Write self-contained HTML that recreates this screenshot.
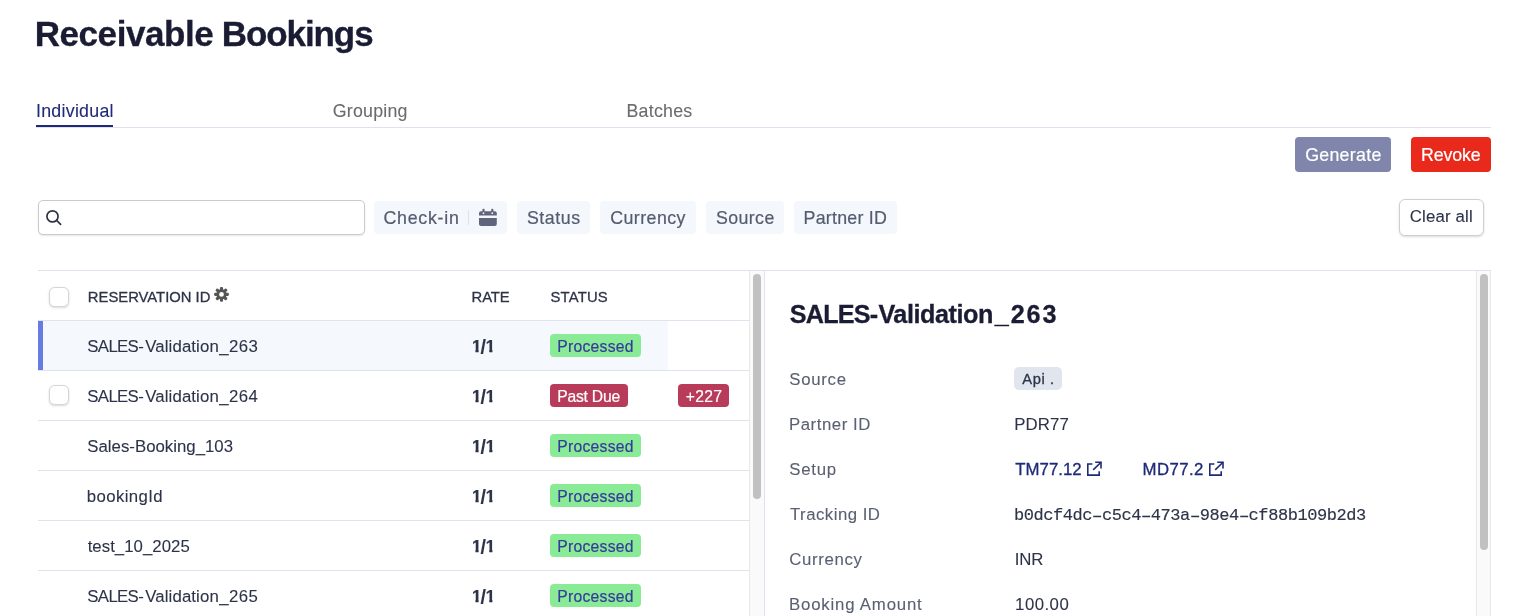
<!DOCTYPE html>
<html lang="en">
<head>
<meta charset="utf-8">
<title>Receivable Bookings</title>
<style>
html,body{margin:0;padding:0;background:#fff;}
body{width:1522px;height:616px;position:relative;overflow:hidden;font-family:"Liberation Sans",sans-serif;}
.b{position:absolute;box-sizing:border-box;}
.t{position:absolute;white-space:nowrap;line-height:20px;height:20px;}
.s{font-family:"Liberation Sans",sans-serif;-webkit-text-stroke:0.1px;}
.m{font-family:"Liberation Mono",monospace;-webkit-text-stroke:0.15px #2d3348;}
.hl{position:absolute;height:1px;background:#dfe3ee;}
.chip{position:absolute;top:201px;height:33px;background:#f4f7fb;border-radius:4px;}
.btn{position:absolute;top:137px;height:35px;border-radius:4px;}
.cb{position:absolute;left:49px;width:20px;height:19.5px;box-sizing:border-box;border:1px solid #d3d4d9;border-radius:5.5px;background:#fff;box-shadow:0 1px 3px rgba(0,0,0,.10),0 1px 2px rgba(0,0,0,.06);}
.bg{position:absolute;height:23px;border-radius:4px;}
.green{background:#8aeb96;left:550px;width:91px;}
.red{background:#b83c5a;}
.track{position:absolute;top:271px;width:15px;height:345px;background:#fafafa;box-sizing:border-box;border-left:1px solid #e8e8e8;border-right:1px solid #e8e8e8;}
.thumb{position:absolute;top:274px;width:7.6px;border-radius:4px;background:#c1c1c1;}
.hy{display:inline-block;transform:translateY(0.6px) scaleX(1.65);}
svg{position:absolute;overflow:visible;}
</style>
</head>
<body>
<div id="root" style="position:absolute;left:0;top:0;width:1522px;height:616px;will-change:transform;">
<!-- tabs -->
<div class="hl" style="left:36px;top:127px;width:1455px;background:#dde2ee;"></div>
<div class="b" style="left:36px;top:125px;width:77px;height:2px;background:#1e2a78;"></div>

<!-- action buttons -->
<div class="btn" style="left:1295px;width:96px;background:#7f85ab;"></div>
<div class="btn" style="left:1411px;width:80px;background:#e8291c;"></div>

<!-- search -->
<div class="b" style="left:38px;top:200px;width:327px;height:35px;border:1px solid #c8cacf;border-radius:5px;background:#fff;box-shadow:0 1px 2px rgba(0,0,0,.10);"></div>
<svg style="left:44px;top:208px" width="20" height="20" viewBox="44 208 20 20"><circle cx="52.5" cy="216.4" r="5.55" fill="none" stroke="#2d3348" stroke-width="1.7"/><path d="M56.6 220.4 L60.6 224.3" stroke="#2d3348" stroke-width="1.7" stroke-linecap="round" fill="none"/></svg>

<!-- chips -->
<div class="chip" style="left:374px;width:133px;"></div>
<div class="b" style="left:468px;top:210px;width:1px;height:15px;background:#e0e3ec;"></div>
<svg style="left:478px;top:208px" width="20" height="20" viewBox="478 208 20 20"><g fill="#60657b"><path d="M479 213.2 a2 2 0 0 1 2 -2 h13.8 a2 2 0 0 1 2 2 v2.3 h-17.8z"/><rect x="482.4" y="208.8" width="2.2" height="4" rx="1"/><rect x="491.2" y="208.8" width="2.2" height="4" rx="1"/><path d="M479 218.1 h17.8 v5.9 a2 2 0 0 1 -2 2 h-13.8 a2 2 0 0 1 -2 -2z"/></g><circle cx="483.5" cy="213.2" r="0.9" fill="#f4f7fb"/><circle cx="492.3" cy="213.2" r="0.9" fill="#f4f7fb"/></svg>
<div class="chip" style="left:517px;width:73px;"></div>
<div class="chip" style="left:600.4px;width:95.8px;"></div>
<div class="chip" style="left:706.4px;width:77.8px;"></div>
<div class="chip" style="left:794px;width:103px;"></div>
<div class="b" style="left:1399px;top:199px;width:85px;height:37px;border:1px solid #cdcfd6;border-radius:6px;background:#fff;box-shadow:0 1px 3px rgba(0,0,0,.10),0 1px 2px rgba(0,0,0,.06);"></div>

<!-- table -->
<div class="hl" style="left:38px;top:270px;width:1453px;"></div>
<div class="b" style="left:38px;top:321px;width:630px;height:49px;background:#f5f8fc;"></div>
<div class="b" style="left:38px;top:321px;width:5px;height:49px;background:#667ce0;"></div>
<div class="hl" style="left:38px;top:320px;width:711px;"></div>
<div class="hl" style="left:38px;top:370px;width:711px;"></div>
<div class="hl" style="left:38px;top:420px;width:711px;"></div>
<div class="hl" style="left:38px;top:470px;width:711px;"></div>
<div class="hl" style="left:38px;top:520px;width:711px;"></div>
<div class="hl" style="left:38px;top:570px;width:711px;"></div>
<div class="cb" style="top:287px;"></div>
<div class="cb" style="top:385px;"></div>
<svg style="left:214px;top:287px" width="15" height="15" viewBox="-7.5 -7.4 15 15"><g fill="#555"><rect x="-1.55" y="-7.4" width="3.1" height="4.4" rx="1.1" transform="rotate(0)"/><rect x="-1.55" y="-7.4" width="3.1" height="4.4" rx="1.1" transform="rotate(45)"/><rect x="-1.55" y="-7.4" width="3.1" height="4.4" rx="1.1" transform="rotate(90)"/><rect x="-1.55" y="-7.4" width="3.1" height="4.4" rx="1.1" transform="rotate(135)"/><rect x="-1.55" y="-7.4" width="3.1" height="4.4" rx="1.1" transform="rotate(180)"/><rect x="-1.55" y="-7.4" width="3.1" height="4.4" rx="1.1" transform="rotate(225)"/><rect x="-1.55" y="-7.4" width="3.1" height="4.4" rx="1.1" transform="rotate(270)"/><rect x="-1.55" y="-7.4" width="3.1" height="4.4" rx="1.1" transform="rotate(315)"/></g><circle r="3.75" fill="none" stroke="#555" stroke-width="2.7"/></svg>

<!-- badges -->
<div class="bg green" style="top:334px;"></div>
<div class="bg red" style="top:384px;left:550px;width:78px;"></div>
<div class="bg red" style="top:384px;left:678px;width:51px;"></div>
<div class="bg green" style="top:434px;"></div>
<div class="bg green" style="top:484px;"></div>
<div class="bg green" style="top:534px;"></div>
<div class="bg green" style="top:584px;"></div>

<!-- scrollbars -->
<div class="track" style="left:749px;width:16px;border-right-color:#dfe3ee;"></div>
<div class="thumb" style="left:753px;height:225px;"></div>
<div class="track" style="left:1476px;"></div>
<div class="thumb" style="left:1480px;height:276px;"></div>

<!-- detail -->
<div class="b" style="left:1014px;top:367px;width:48px;height:23px;border-radius:5px;background:#e1e5ed;"></div>
<svg style="left:1085px;top:460px" width="20" height="20" viewBox="1085 460 20 20"><g fill="none" stroke="#1e2a78" stroke-width="1.6"><path d="M1092.4 464 H1087.8 V475.1 H1099.2 V471.2"/><path d="M1093.2 469.9 L1101 462.3"/><path d="M1095.2 462.3 H1101 V468.6"/></g></svg>
<svg style="left:1207px;top:460px" width="20" height="20" viewBox="1085 460 20 20"><g fill="none" stroke="#1e2a78" stroke-width="1.6"><path d="M1092.4 464 H1087.8 V475.1 H1099.2 V471.2"/><path d="M1093.2 469.9 L1101 462.3"/><path d="M1095.2 462.3 H1101 V468.6"/></g></svg>

<span class="t s" style="left:34.73px;top:24px;font-size:35px;letter-spacing:-0.437px;color:#1a1c33;font-weight:700;-webkit-text-stroke:0.3px;">Receivable</span>
<span class="t s" style="left:221.68px;top:24px;font-size:35px;letter-spacing:-1.067px;color:#1a1c33;font-weight:700;-webkit-text-stroke:0.3px;">Bookings</span>
<span class="t s" style="left:36.00px;top:101px;font-size:17.8px;letter-spacing:0.267px;color:#1e2a78;">Individual</span>
<span class="t s" style="left:332.81px;top:101px;font-size:17.8px;letter-spacing:0.204px;color:#6b6b6b;">Grouping</span>
<span class="t s" style="left:626.53px;top:101px;font-size:17.8px;letter-spacing:0.237px;color:#6b6b6b;">Batches</span>
<span class="t s" style="left:1305.14px;top:145px;font-size:17.8px;letter-spacing:0.287px;color:#ffffff;-webkit-text-stroke:0.2px;">Generate</span>
<span class="t s" style="left:1421.00px;top:145px;font-size:17.8px;letter-spacing:-0.111px;color:#ffffff;-webkit-text-stroke:0.2px;">Revoke</span>
<span class="t s" style="left:383.45px;top:208px;font-size:17.8px;letter-spacing:0.755px;color:#555b70;-webkit-text-stroke:0.2px;">Check-in</span>
<span class="t s" style="left:526.95px;top:208px;font-size:17.8px;letter-spacing:0.538px;color:#555b70;-webkit-text-stroke:0.2px;">Status</span>
<span class="t s" style="left:610.25px;top:208px;font-size:17.8px;letter-spacing:0.434px;color:#555b70;-webkit-text-stroke:0.2px;">Currency</span>
<span class="t s" style="left:715.95px;top:208px;font-size:17.8px;letter-spacing:0.404px;color:#555b70;-webkit-text-stroke:0.2px;">Source</span>
<span class="t s" style="left:803.62px;top:208px;font-size:17.8px;letter-spacing:0.238px;color:#555b70;-webkit-text-stroke:0.2px;">Partner ID</span>
<span class="t s" style="left:1409.84px;top:207px;font-size:16.8px;letter-spacing:0.158px;color:#2d3348;">Clear all</span>
<span class="t s" style="left:87.82px;top:287px;font-size:14.8px;letter-spacing:0.006px;color:#2d3348;-webkit-text-stroke:0.3px;">RESERVATION ID</span>
<span class="t s" style="left:471.62px;top:287px;font-size:14.8px;letter-spacing:-0.135px;color:#2d3348;-webkit-text-stroke:0.3px;">RATE</span>
<span class="t s" style="left:550.47px;top:287px;font-size:14.8px;letter-spacing:0.205px;color:#2d3348;-webkit-text-stroke:0.3px;">STATUS</span>
<span class="t s" style="left:87.32px;top:337px;font-size:16.8px;letter-spacing:-0.654px;color:#2d3348;">SALES-</span>
<span class="t s" style="left:145.27px;top:337px;font-size:16.8px;letter-spacing:0.113px;color:#2d3348;">Validation</span>
<span class="t s" style="left:219.30px;top:337px;font-size:16.8px;letter-spacing:0.408px;color:#2d3348;">_263</span>
<span class="t s" style="left:471.93px;top:337px;font-size:16.8px;letter-spacing:0.000px;color:#2d3348;font-weight:700;clip-path:polygon(0 0,100% 0,100% 12.7px,6.7px 12.7px,6.7px 100%,3.5px 100%,3.5px 12.7px,0 12.7px);-webkit-text-stroke:0.25px;">1</span>
<span class="t s" style="left:480.49px;top:337px;font-size:19.5px;letter-spacing:0.000px;color:#2d3348;font-weight:700;-webkit-text-stroke:0.1px;">/</span>
<span class="t s" style="left:485.74px;top:337px;font-size:16.8px;letter-spacing:0.000px;color:#2d3348;font-weight:700;clip-path:polygon(0 0,100% 0,100% 12.7px,6.7px 12.7px,6.7px 100%,3.5px 100%,3.5px 12.7px,0 12.7px);-webkit-text-stroke:0.25px;">1</span>
<span class="t s" style="left:557.36px;top:337px;font-size:15.7px;letter-spacing:0.244px;color:#373a9e;-webkit-text-stroke:0.2px;">Processed</span>
<span class="t s" style="left:87.32px;top:387px;font-size:16.8px;letter-spacing:-0.651px;color:#2d3348;">SALES-</span>
<span class="t s" style="left:145.26px;top:387px;font-size:16.8px;letter-spacing:0.114px;color:#2d3348;">Validation</span>
<span class="t s" style="left:219.28px;top:387px;font-size:16.8px;letter-spacing:0.428px;color:#2d3348;">_264</span>
<span class="t s" style="left:471.93px;top:387px;font-size:16.8px;letter-spacing:0.000px;color:#2d3348;font-weight:700;clip-path:polygon(0 0,100% 0,100% 12.7px,6.7px 12.7px,6.7px 100%,3.5px 100%,3.5px 12.7px,0 12.7px);-webkit-text-stroke:0.25px;">1</span>
<span class="t s" style="left:480.49px;top:387px;font-size:19.5px;letter-spacing:0.000px;color:#2d3348;font-weight:700;-webkit-text-stroke:0.1px;">/</span>
<span class="t s" style="left:485.74px;top:387px;font-size:16.8px;letter-spacing:0.000px;color:#2d3348;font-weight:700;clip-path:polygon(0 0,100% 0,100% 12.7px,6.7px 12.7px,6.7px 100%,3.5px 100%,3.5px 12.7px,0 12.7px);-webkit-text-stroke:0.25px;">1</span>
<span class="t s" style="left:557.16px;top:387px;font-size:15.7px;letter-spacing:-0.209px;color:#ffffff;-webkit-text-stroke:0.2px;">Past Due</span>
<span class="t s" style="left:685.87px;top:387px;font-size:15.7px;letter-spacing:0.263px;color:#ffffff;-webkit-text-stroke:0.2px;">+227</span>
<span class="t s" style="left:87.32px;top:437px;font-size:16.8px;letter-spacing:0.011px;color:#2d3348;">Sales-Booking_103</span>
<span class="t s" style="left:471.93px;top:437px;font-size:16.8px;letter-spacing:0.000px;color:#2d3348;font-weight:700;clip-path:polygon(0 0,100% 0,100% 12.7px,6.7px 12.7px,6.7px 100%,3.5px 100%,3.5px 12.7px,0 12.7px);-webkit-text-stroke:0.25px;">1</span>
<span class="t s" style="left:480.49px;top:437px;font-size:19.5px;letter-spacing:0.000px;color:#2d3348;font-weight:700;-webkit-text-stroke:0.1px;">/</span>
<span class="t s" style="left:485.74px;top:437px;font-size:16.8px;letter-spacing:0.000px;color:#2d3348;font-weight:700;clip-path:polygon(0 0,100% 0,100% 12.7px,6.7px 12.7px,6.7px 100%,3.5px 100%,3.5px 12.7px,0 12.7px);-webkit-text-stroke:0.25px;">1</span>
<span class="t s" style="left:557.36px;top:437px;font-size:15.7px;letter-spacing:0.244px;color:#373a9e;-webkit-text-stroke:0.2px;">Processed</span>
<span class="t s" style="left:86.83px;top:487px;font-size:16.8px;letter-spacing:0.365px;color:#2d3348;">bookingId</span>
<span class="t s" style="left:471.93px;top:487px;font-size:16.8px;letter-spacing:0.000px;color:#2d3348;font-weight:700;clip-path:polygon(0 0,100% 0,100% 12.7px,6.7px 12.7px,6.7px 100%,3.5px 100%,3.5px 12.7px,0 12.7px);-webkit-text-stroke:0.25px;">1</span>
<span class="t s" style="left:480.49px;top:487px;font-size:19.5px;letter-spacing:0.000px;color:#2d3348;font-weight:700;-webkit-text-stroke:0.1px;">/</span>
<span class="t s" style="left:485.74px;top:487px;font-size:16.8px;letter-spacing:0.000px;color:#2d3348;font-weight:700;clip-path:polygon(0 0,100% 0,100% 12.7px,6.7px 12.7px,6.7px 100%,3.5px 100%,3.5px 12.7px,0 12.7px);-webkit-text-stroke:0.25px;">1</span>
<span class="t s" style="left:557.36px;top:487px;font-size:15.7px;letter-spacing:0.244px;color:#373a9e;-webkit-text-stroke:0.2px;">Processed</span>
<span class="t s" style="left:87.64px;top:537px;font-size:16.8px;letter-spacing:0.041px;color:#2d3348;">test_10_2025</span>
<span class="t s" style="left:471.93px;top:537px;font-size:16.8px;letter-spacing:0.000px;color:#2d3348;font-weight:700;clip-path:polygon(0 0,100% 0,100% 12.7px,6.7px 12.7px,6.7px 100%,3.5px 100%,3.5px 12.7px,0 12.7px);-webkit-text-stroke:0.25px;">1</span>
<span class="t s" style="left:480.49px;top:537px;font-size:19.5px;letter-spacing:0.000px;color:#2d3348;font-weight:700;-webkit-text-stroke:0.1px;">/</span>
<span class="t s" style="left:485.74px;top:537px;font-size:16.8px;letter-spacing:0.000px;color:#2d3348;font-weight:700;clip-path:polygon(0 0,100% 0,100% 12.7px,6.7px 12.7px,6.7px 100%,3.5px 100%,3.5px 12.7px,0 12.7px);-webkit-text-stroke:0.25px;">1</span>
<span class="t s" style="left:557.36px;top:537px;font-size:15.7px;letter-spacing:0.244px;color:#373a9e;-webkit-text-stroke:0.2px;">Processed</span>
<span class="t s" style="left:87.32px;top:587px;font-size:16.8px;letter-spacing:-0.651px;color:#2d3348;">SALES-</span>
<span class="t s" style="left:145.26px;top:587px;font-size:16.8px;letter-spacing:0.114px;color:#2d3348;">Validation</span>
<span class="t s" style="left:219.28px;top:587px;font-size:16.8px;letter-spacing:0.412px;color:#2d3348;">_265</span>
<span class="t s" style="left:471.93px;top:587px;font-size:16.8px;letter-spacing:0.000px;color:#2d3348;font-weight:700;clip-path:polygon(0 0,100% 0,100% 12.7px,6.7px 12.7px,6.7px 100%,3.5px 100%,3.5px 12.7px,0 12.7px);-webkit-text-stroke:0.25px;">1</span>
<span class="t s" style="left:480.49px;top:587px;font-size:19.5px;letter-spacing:0.000px;color:#2d3348;font-weight:700;-webkit-text-stroke:0.1px;">/</span>
<span class="t s" style="left:485.74px;top:587px;font-size:16.8px;letter-spacing:0.000px;color:#2d3348;font-weight:700;clip-path:polygon(0 0,100% 0,100% 12.7px,6.7px 12.7px,6.7px 100%,3.5px 100%,3.5px 12.7px,0 12.7px);-webkit-text-stroke:0.25px;">1</span>
<span class="t s" style="left:557.36px;top:587px;font-size:15.7px;letter-spacing:0.244px;color:#373a9e;-webkit-text-stroke:0.2px;">Processed</span>
<span class="t s" style="left:789.75px;top:304px;font-size:25.2px;letter-spacing:-0.796px;color:#1a1c33;font-weight:700;-webkit-text-stroke:0.3px;">SALES-</span>
<span class="t s" style="left:878.40px;top:304px;font-size:25.2px;letter-spacing:-0.442px;color:#1a1c33;font-weight:700;-webkit-text-stroke:0.3px;">Validation</span>
<span class="t s" style="left:994.75px;top:304px;font-size:25.2px;letter-spacing:1.875px;color:#1a1c33;font-weight:700;-webkit-text-stroke:0.3px;">_263</span>
<span class="t s" style="left:789.24px;top:370px;font-size:16.8px;letter-spacing:0.722px;color:#5a6072;">Source</span>
<span class="t s" style="left:789.00px;top:415px;font-size:16.8px;letter-spacing:0.535px;color:#5a6072;">Partner ID</span>
<span class="t s" style="left:789.24px;top:460px;font-size:16.8px;letter-spacing:0.757px;color:#5a6072;">Setup</span>
<span class="t s" style="left:790.00px;top:505px;font-size:16.8px;letter-spacing:0.475px;color:#5a6072;">Tracking ID</span>
<span class="t s" style="left:789.20px;top:550px;font-size:16.8px;letter-spacing:0.669px;color:#5a6072;">Currency</span>
<span class="t s" style="left:789.00px;top:595px;font-size:16.8px;letter-spacing:0.809px;color:#5a6072;">Booking Amount</span>
<span class="t s" style="left:1022.24px;top:369px;font-size:14.7px;letter-spacing:0.612px;color:#2d3348;-webkit-text-stroke:0.3px;">Api .</span>
<span class="t s" style="left:1014.25px;top:415px;font-size:16.8px;letter-spacing:0.097px;color:#2d3348;">PDR77</span>
<span class="t s" style="left:1015.17px;top:460px;font-size:16.8px;letter-spacing:0.053px;color:#1e2a78;-webkit-text-stroke:0.3px;">TM77.12</span>
<span class="t s" style="left:1142.54px;top:460px;font-size:16.8px;letter-spacing:0.429px;color:#1e2a78;-webkit-text-stroke:0.3px;">MD77.2</span>
<span class="t m" style="left:1013.91px;top:506px;font-size:17px;letter-spacing:-0.426px;color:#2d3348;">b0dcf4dc<span class="hy">-</span>c5c4<span class="hy">-</span>473a<span class="hy">-</span>98e4<span class="hy">-</span>cf88b109b2d3</span>
<span class="t s" style="left:1014.69px;top:550px;font-size:16.8px;letter-spacing:-0.149px;color:#2d3348;">INR</span>
<span class="t s" style="left:1015.11px;top:595px;font-size:16.8px;letter-spacing:0.460px;color:#2d3348;">100.00</span>
</div>
</body>
</html>
